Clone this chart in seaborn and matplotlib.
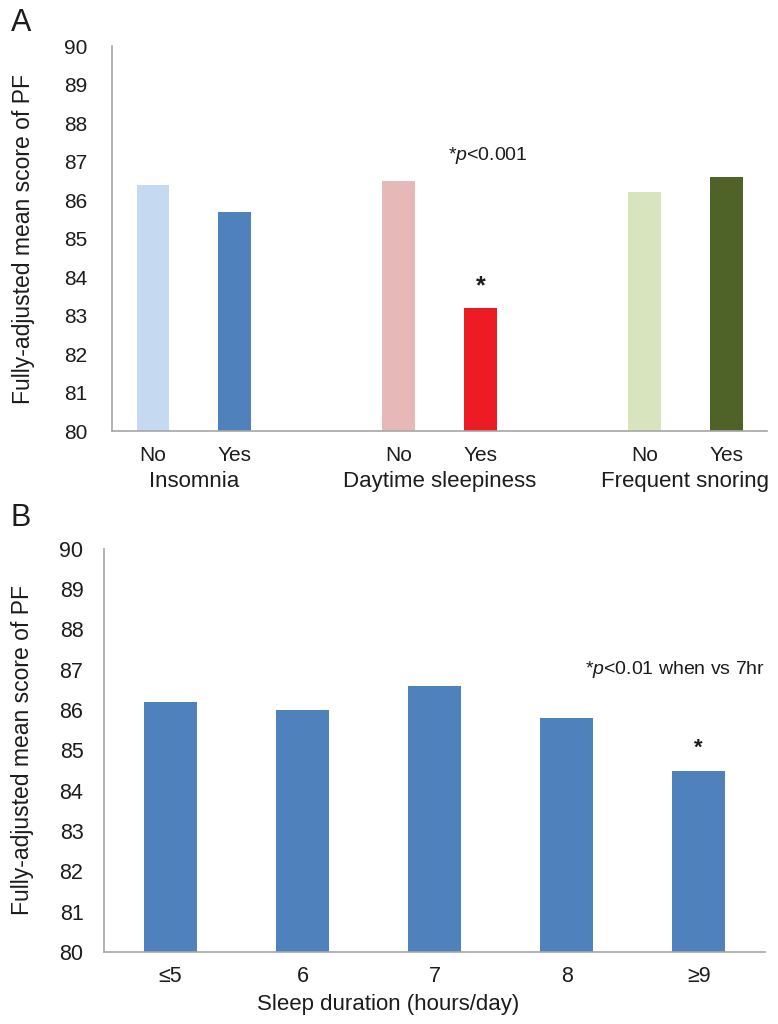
import matplotlib
matplotlib.use("Agg")
import matplotlib.pyplot as plt
import seaborn as sns
import pandas as pd

# ---------------- data ----------------
groups = ["Insomnia", "Daytime sleepiness", "Frequent snoring"]
answers = ["No", "Yes"]
scores_a = [86.4, 85.7, 86.5, 83.2, 86.2, 86.6]
colors_a = ["#C5D9F1", "#4F81BD", "#E6B9B8", "#ED1C24", "#D7E4BD", "#4F6228"]

durations = ["≤5", "6", "7", "8", "≥9"]
scores_b = [86.2, 86.0, 86.6, 85.8, 84.5]
color_b = "#4F81BD"

ylabel = "Fully-adjusted mean score of PF"
yticks = list(range(80, 91))

# ---------------- style ----------------
sns.set_style("white")
plt.rcParams["font.family"] = ["Liberation Sans", "DejaVu Sans"]
plt.rcParams["mathtext.fontset"] = "custom"
plt.rcParams["mathtext.it"] = "Liberation Sans:italic"
plt.rcParams["mathtext.rm"] = "Liberation Sans"
txt = "#1c1c1c"
plt.rcParams["text.color"] = txt
plt.rcParams["axes.labelcolor"] = txt
plt.rcParams["xtick.color"] = txt
plt.rcParams["ytick.color"] = txt

fig = plt.figure(figsize=(7.78, 10.24), dpi=100)
axA = fig.add_axes([0.144, 0.579, 0.842, 0.376])
axB = fig.add_axes([0.134, 0.0703, 0.849, 0.3937])

spine_color = "#A6A6A6"

# ---------------- panel A ----------------
rows = []
for gi, g in enumerate(groups):
    for ai, a in enumerate(answers):
        rows.append({"group": g, "answer": a, "key": f"{g}-{a}",
                     "pos": gi * 3 + ai, "score": scores_a[gi * 2 + ai]})
dfA = pd.DataFrame(rows)
pal = dict(zip(dfA["key"], colors_a))
sns.barplot(data=dfA, x="pos", y="score", hue="key", palette=pal,
            native_scale=True, dodge=False, width=0.4, saturation=1,
            linewidth=0, legend=False, ax=axA)
axA.set_xlim(-0.5, 7.5)
axA.set_ylim(80, 90)
axA.set_yticks(yticks)
axA.set_xticks(dfA["pos"])
axA.set_xticklabels(dfA["answer"], fontsize=15)
axA.tick_params(axis="y", labelsize=15, length=0, pad=18)
axA.tick_params(axis="x", length=0, pad=11)
axA.set_xlabel("")
axA.set_ylabel(ylabel, fontsize=16.5)
axA.yaxis.set_label_coords(-0.118, 0.5)
for gi, g in enumerate(groups):
    axA.text(gi * 3 + 0.5, -0.13, g, transform=axA.get_xaxis_transform(),
             ha="center", va="center", fontsize=16)
axA.text(4.09, 87.15, r"*$\mathit{p}$<0.001", ha="center", va="center", fontsize=14)
axA.text(4, 83.75, "*", ha="center", va="center", fontsize=18, fontweight="bold")
fig.text(0.027, 0.978, "A", fontsize=22, va="center", ha="center")

# ---------------- panel B ----------------
dfB = pd.DataFrame({"duration": durations, "score": scores_b})
sns.barplot(data=dfB, x="duration", y="score", color=color_b, width=0.4,
            saturation=1, linewidth=0, ax=axB)
axB.set_xlim(-0.5, 4.5)
axB.set_ylim(80, 90)
axB.set_yticks(yticks)
axB.tick_params(axis="y", labelsize=15.5, length=0, pad=15)
axB.tick_params(axis="x", labelsize=15.5, length=0, pad=10)
axB.set_xlabel("Sleep duration (hours/day)", fontsize=16, labelpad=14)
axB.xaxis.set_label_coords(0.43, -0.105)
axB.set_ylabel(ylabel, fontsize=16.5)
axB.yaxis.set_label_coords(-0.106, 0.5)
axB.text(4.5, 87.0, r"*$\mathit{p}$<0.01 when vs 7hr", ha="right", va="center",
         fontsize=14)
axB.text(4, 85.05, "*", ha="center", va="center", fontsize=16, fontweight="bold")
fig.text(0.027, 0.494, "B", fontsize=22, va="center", ha="center")

for ax in (axA, axB):
    sns.despine(ax=ax)
    for s in ("left", "bottom"):
        ax.spines[s].set_color(spine_color)
        ax.spines[s].set_linewidth(1.2)
    ax.grid(False)

fig.savefig("out.png", dpi=100)
